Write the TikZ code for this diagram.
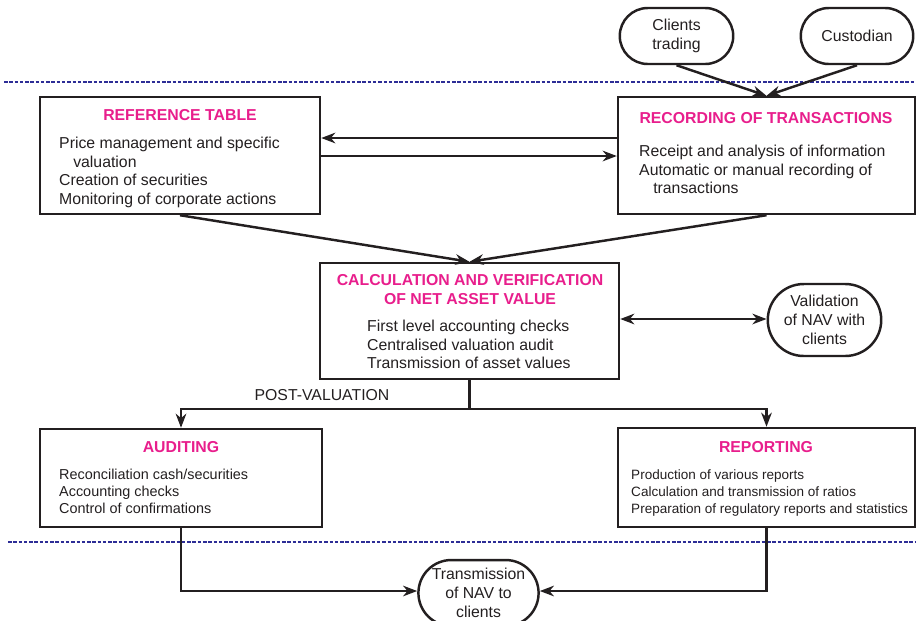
\documentclass[tikz,border=0pt]{standalone}
\usepackage{fontspec}
\setmainfont{Liberation Sans}
\usetikzlibrary{arrows.meta,shapes.misc,positioning}

\definecolor{titlepink}{RGB}{232,30,140}
\definecolor{dashblue}{RGB}{45,45,150}
\definecolor{ink}{RGB}{35,31,32}

\tikzset{
  box/.style={rectangle, draw, inner sep=0pt},
  oval/.style={rounded rectangle, draw, align=center, inner sep=1pt,
    font=\fontsize{9}{11}\selectfont},
  title/.style={font=\fontsize{9}{10.5}\selectfont\bfseries, text=titlepink,
    align=center, inner sep=0pt},
  body/.style={anchor=north west, align=left, inner sep=0pt,
    font=\fontsize{9}{10.5}\selectfont},
  separator/.style={draw=dashblue, line width=1.1pt, dash pattern=on 2pt off 1pt}
}

\begin{document}
\begin{tikzpicture}[x=0.02cm, y=-0.02cm, line width=1.4pt, color=ink,
  >={Stealth[length=8pt,width=6pt,inset=2.5pt]}]
		\useasboundingbox (0,0) rectangle (916,620);

		% separators
		\draw[separator] (4,82) -- (916,82);
		\draw[separator] (8,542) -- (916,542);

		% outside parties
		\path (676.5,36) node[oval, minimum width=2.34cm, minimum height=1.12cm] (clients) {Clients\\trading}
  		(857,36) node[oval, minimum width=2.32cm, minimum height=1.12cm] (cust) {Custodian}
  		(824.5,320) node[oval, minimum width=2.34cm, minimum height=1.44cm] (valid) {Validation\\of NAV with\\clients}
  		(478.5,593) node[oval, minimum width=2.34cm, minimum height=1.32cm] (trans) {Transmission\\of NAV to\\clients};

		% main boxes
		\path (180,155.5) node[box, minimum width=5.6cm, minimum height=2.34cm] (ref) {}
  		(766.5,155.5) node[box, minimum width=5.94cm, minimum height=2.34cm] (rec) {}
  		(469.5,321) node[box, minimum width=5.98cm, minimum height=2.32cm] (calc) {}
  		(181,478) node[box, minimum width=5.64cm, minimum height=1.96cm] (aud) {}
  		(766.5,477.5) node[box, minimum width=5.94cm, minimum height=1.98cm] (rep) {};

		% box texts
		\node[title] (reftitle) at (180,115) {REFERENCE TABLE};
		\node[body] (reftext) at (58,136) {Price management and specific\\\hspace*{8pt}valuation\\Creation of securities\\Monitoring of corporate actions};
		\node[title] (rectitle) at (766,118) {RECORDING OF TRANSACTIONS};
		\node[body] (rectext) at (638,144) {Receipt and analysis of information\\Automatic or manual recording of\\\hspace*{8pt}transactions};
		\node[title] (calctitle) at (470,289.5) {CALCULATION AND VERIFICATION\\OF NET ASSET VALUE};
		\node[body] (calctext) at (366,319) {First level accounting checks\\Centralised valuation audit\\Transmission of asset values};
		\node[title] (audtitle) at (181,447) {AUDITING};
		\node[body, font=\fontsize{8.2}{9.9}\selectfont] (audtext) at (58,467.5) {Reconciliation cash/securities\\Accounting checks\\Control of confirmations};
		\node[title] (reptitle) at (766,447) {REPORTING};
		\node[body, font=\fontsize{7.7}{9.9}\selectfont] (reptext) at (630,468) {Production of various reports\\Calculation and transmission of ratios\\Preparation of regulatory reports and statistics};
		\node[inner sep=0pt, font=\fontsize{9}{10.5}\selectfont] (postval) at (322,395) {POST-VALUATION};

		% connectors
		\draw[->] (clients.south) -- (rec.north);
		\draw[->] (cust.south) -- (rec.north);
		\draw[->] ([yshift=0.35cm]rec.west) -- ([yshift=0.35cm]ref.east);
		\draw[->] ([yshift=-0.01cm]ref.east) -- ([yshift=-0.01cm]rec.west);
		\draw[->] (ref.south) -- (calc.north);
		\draw[->] (rec.south) -- (calc.north);
		\draw[<->] ([yshift=0.04cm]calc.east) -- ([yshift=0.04cm]calc.east -| valid.west);
		\draw[->] (calc.south) -- ++(0,29) -| (aud.north);
		\draw[->] (calc.south) -- ++(0,29) -| (rep.north);
		\draw[->] (aud.south) |- ([yshift=0.04cm]trans.west);
		\draw[->] (rep.south) |- ([yshift=0.04cm]trans.east);
	\end{tikzpicture}
\end{document}
